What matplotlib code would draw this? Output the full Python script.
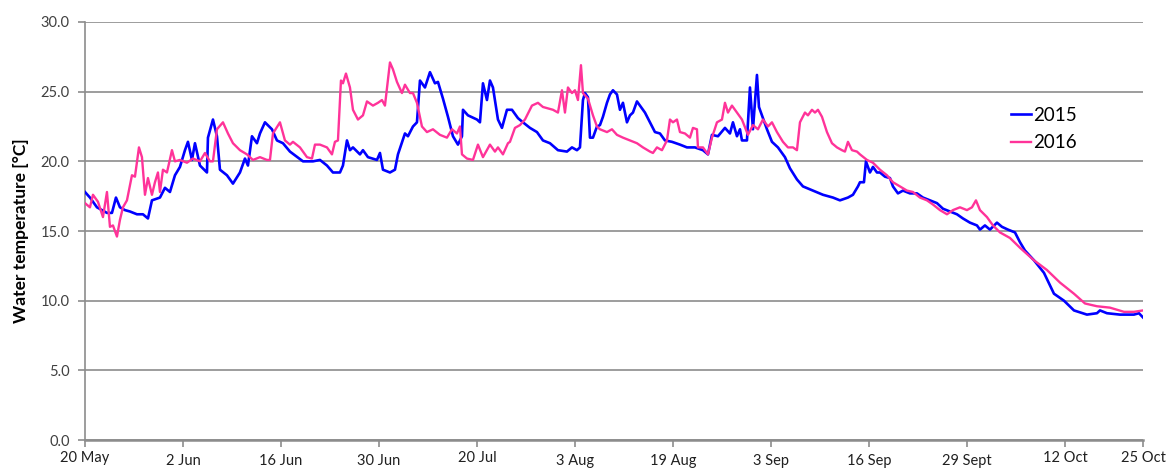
import matplotlib
matplotlib.use("Agg")
import matplotlib.pyplot as plt

plt.rcParams['font.family'] = ['Lato', 'DejaVu Sans']

# x axis: sample index; tick labels at equally spaced positions
tick_pos = [0, 98, 196, 294, 392, 490, 588, 686, 784, 882, 980, 1058]
tick_labels = ['20 May', '2 Jun', '16 Jun', '30 Jun', '20 Jul', '3 Aug', '19 Aug',
               '3 Sep', '16 Sep', '29 Sept', '12 Oct', '25 Oct']

x_2015 = [0, 5, 12, 22, 27, 31, 35, 40, 45, 52, 58, 63, 67, 75, 80, 85, 90, 95, 100, 103,
          107, 110, 115, 122, 123, 128, 132, 135, 142, 148, 155, 160, 163, 167, 172, 175,
          180, 187, 192, 198, 205, 218, 228, 235, 242, 248, 255, 258, 262, 265, 268, 275,
          278, 283, 292, 295, 298, 305, 310, 313, 320, 323, 328, 332, 335, 340, 345, 350,
          353, 358, 363, 368, 373, 377, 378, 383, 392, 395, 398, 402, 405, 408, 413, 417,
          422, 427, 433, 438, 445, 452, 458, 465, 473, 482, 487, 492, 495, 498, 500, 503,
          505, 508, 512, 515, 518, 522, 525, 528, 532, 535, 538, 542, 545, 548, 552, 555,
          560, 565, 570, 575, 580, 587, 595, 602, 610, 618, 623, 627, 633, 640, 645, 648,
          652, 655, 657, 662, 665, 668, 672, 674, 678, 682, 687, 693, 700, 705, 712, 718,
          728, 738, 748, 755, 763, 768, 773, 775, 779, 781, 785, 788, 792, 795, 800, 805,
          808, 813, 818, 825, 832, 838, 845, 852, 858, 865, 872, 878, 885, 892, 895, 900,
          905, 912, 917, 923, 930, 935, 940, 949, 959, 969, 979, 989, 1002, 1012, 1015,
          1022, 1035, 1049, 1054, 1058]
t_2015 = [17.8, 17.4, 16.7, 16.3, 16.3, 17.4, 16.7, 16.5, 16.4, 16.2, 16.2, 15.9, 17.2,
          17.4, 18.1, 17.8, 19.0, 19.6, 20.8, 21.4,
          20.1, 21.3, 19.7, 19.2, 21.7, 23.0, 21.8, 19.4, 19.0, 18.4, 19.2, 20.2, 19.7,
          21.8, 21.3, 22.0,
          22.8, 22.3, 21.5, 21.3, 20.7, 20.0, 20.0, 20.1, 19.7, 19.2, 19.2, 19.7, 21.5,
          20.8, 21.0, 20.5,
          20.8, 20.3, 20.1, 20.6, 19.4, 19.2, 19.4, 20.5, 22.0, 21.8, 22.5, 22.8, 25.8,
          25.3, 26.4, 25.6,
          25.7, 24.5, 23.2, 21.8, 21.2, 21.8, 23.7, 23.3, 23.0, 22.8, 25.6, 24.4, 25.8,
          25.3, 23.0, 22.4,
          23.7, 23.7, 23.1, 22.8, 22.4, 22.1, 21.5, 21.3, 20.8, 20.7, 21.0, 20.8, 21.0,
          24.4, 24.9, 24.6,
          21.7, 21.7, 22.5, 22.6, 23.2, 24.2, 24.8, 25.1, 24.8, 23.7, 24.2, 22.8, 23.3,
          23.5, 24.3, 24.0,
          23.5, 22.8, 22.1, 22.0, 21.5, 21.4, 21.2, 21.0, 21.0, 20.8, 20.5, 21.9, 21.8,
          22.4, 22.0, 22.8,
          21.8, 22.3, 21.5, 21.5, 25.3, 22.3, 26.2, 23.9, 23.1, 22.3, 21.4, 21.0, 20.3,
          19.5, 18.7, 18.2,
          17.9, 17.6, 17.4, 17.2, 17.4, 17.6, 18.2, 18.5, 18.5, 20.0, 19.2, 19.6, 19.2,
          19.2, 18.9, 18.8,
          18.2, 17.7, 17.9, 17.7, 17.7, 17.4, 17.2, 17.0, 16.6, 16.4, 16.2, 15.9, 15.6,
          15.4, 15.1, 15.4,
          15.1, 15.6, 15.3, 15.1, 14.9, 14.2, 13.6, 12.9, 12.0, 10.5, 10.0, 9.3, 9.0,
          9.1, 9.3,
          9.1, 9.0, 9.0, 9.1, 8.8]

x_2016 = [0, 5, 8, 13, 18, 22, 25, 28, 32, 35, 38, 42, 47, 50, 54, 57, 60, 63, 67, 70, 73,
          75, 78, 82, 87, 90, 95, 102, 108, 115, 120, 125, 128, 132, 138, 143, 148, 155,
          162, 168, 175, 182, 185, 188, 195, 200, 205, 208, 215, 222, 227, 230, 235, 242,
          247, 250, 253, 256, 258, 261, 265, 268, 273, 278, 282, 288, 293, 297, 300, 305,
          308, 312, 317, 320, 325, 328, 332, 337, 342, 348, 355, 362, 367, 372, 375, 377,
          382, 388, 393, 398, 405, 410, 413, 418, 423, 425, 430, 435, 440, 447, 453, 458,
          463, 468, 473, 477, 480, 483, 487, 490, 493, 496, 498, 503, 508, 512, 515, 522,
          527, 532, 538, 545, 552, 558, 565, 568, 572, 577, 582, 585, 588, 592, 595, 600,
          605, 608, 612, 613, 618, 623, 627, 632, 637, 640, 643, 647, 652, 657, 663, 668,
          673, 678, 683, 687, 692, 698, 703, 708, 712, 715, 720, 723, 727, 730, 733, 737,
          742, 747, 752, 757, 760, 763, 767, 772, 775, 782, 788, 795, 802, 808, 815, 822,
          828, 835, 842, 848, 855, 862, 868, 875, 882, 887, 891, 895, 902, 908, 915, 925,
          935, 949, 962, 975, 989, 1000, 1012, 1025, 1039, 1049, 1058]
t_2016 = [17.0, 16.7, 17.6, 17.1, 16.0, 17.8, 15.3, 15.4, 14.6, 15.8, 16.7, 17.2, 19.0,
          18.9, 21.0, 20.3, 17.6, 18.8, 17.6, 18.5, 19.2,
          17.8, 19.4, 19.2, 20.8, 20.0, 20.1, 19.9, 20.2, 20.0, 20.6, 20.0, 20.0, 22.3,
          22.8, 22.0, 21.3, 20.8,
          20.5, 20.1, 20.3, 20.1, 20.1, 22.0, 22.8, 21.5, 21.2, 21.4, 21.0, 20.3, 20.2,
          21.2, 21.2, 21.0,
          20.5, 21.4, 21.5, 25.8, 25.6, 26.3, 25.3, 23.7, 23.0, 23.3, 24.3, 24.0, 24.2,
          24.4, 24.0, 27.1,
          26.6, 25.7, 24.9, 25.5, 24.9, 24.9, 24.2, 22.5, 22.1, 22.3, 21.9, 21.7, 22.3,
          22.0, 22.5, 20.5,
          20.2, 20.1, 21.2, 20.3, 21.2, 20.7, 21.0, 20.5, 21.3, 21.4, 22.4, 22.6, 23.0,
          24.0, 24.2, 23.9,
          23.8, 23.7, 23.5, 25.1, 23.5, 25.3, 24.9, 25.1, 24.4, 26.9, 24.9, 24.5, 23.3,
          22.5, 22.3, 22.1,
          22.3, 21.9, 21.7, 21.5, 21.3, 21.0, 20.7, 20.6, 21.0, 20.8, 21.5, 23.0, 22.8,
          23.0, 22.1, 22.0,
          21.7, 22.4, 22.3, 21.0, 21.0, 20.5, 21.7, 22.8, 23.0, 24.2, 23.5, 24.0, 23.5,
          23.0, 21.9, 22.6,
          22.3, 23.0, 22.5, 22.8, 22.1, 21.4, 21.0, 21.0, 20.8, 22.8, 23.5, 23.3, 23.7,
          23.5, 23.7, 23.2,
          22.1, 21.3, 21.0, 20.8, 20.7, 21.4, 20.8, 20.7, 20.5, 20.1, 19.9, 19.4, 19.0,
          18.5, 18.2, 17.9,
          17.8, 17.4, 17.2, 16.9, 16.5, 16.2, 16.5, 16.7, 16.5, 16.7, 17.2, 16.5, 16.0,
          15.4, 14.9, 14.5,
          13.8, 12.9, 12.2, 11.3, 10.5, 9.8, 9.6, 9.5, 9.2, 9.2, 9.3]

y_ticks = [0, 5, 10, 15, 20, 25, 30]
series_names = ['2015', '2016']

fig = plt.figure(figsize=(11.67, 4.70), dpi=100)
ax = fig.add_axes([0.0728, 0.0638, 0.9066, 0.8894])

ax.plot(x_2015, t_2015, color='#0000ff', lw=1.9, label=series_names[0], zorder=3)
ax.plot(x_2016, t_2016, color='#ff3399', lw=1.7, label=series_names[1], zorder=3)

ax.set_xlim(0, 1058)
ax.set_ylim(0, 30)
ax.set_yticks(y_ticks)
ax.set_yticklabels([f'{v:.1f}' for v in y_ticks], fontsize=10.5, color='#404040')
ax.set_xticks(tick_pos)
ax.set_xticklabels(tick_labels, fontsize=10.5, color='#202020')
for i, tk in enumerate(ax.xaxis.get_major_ticks()):
    tk.set_pad(3 if tick_labels[i] in ('20 May', '20 Jul', '12 Oct', '25 Oct') else 5)

ax.grid(axis='y', color='#8c8c8c', lw=1.2, zorder=1)
for s in ['top', 'right']:
    ax.spines[s].set_visible(False)
ax.spines['left'].set_color('#8c8c8c')
ax.spines['left'].set_linewidth(1.2)
ax.spines['bottom'].set_color('#8c8c8c')
ax.spines['bottom'].set_linewidth(1.8)
ax.tick_params(axis='both', color='#8c8c8c', length=5, width=1.2)
ax.tick_params(axis='y', pad=6)

ax.set_ylabel('Water temperature [°C]', fontsize=12.5, fontweight='bold', labelpad=8)

leg = ax.legend(loc='upper left', bbox_to_anchor=(0.868, 0.815), frameon=False,
                fontsize=13.5, handlelength=1.1, handletextpad=0.1, labelspacing=0.55,
                borderaxespad=0)

fig.savefig('out.png', dpi=100)
